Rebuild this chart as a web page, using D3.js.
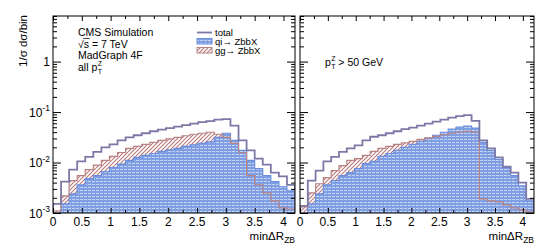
<!DOCTYPE html>
<html>
<head>
<meta charset="utf-8">
<script src="https://cdn.jsdelivr.net/npm/d3@7/dist/d3.min.js"></script>
<style>
  body { margin: 0; background: #fff; }
  svg text { font-family: "Liberation Sans", Arial, Helvetica, sans-serif; fill: #000; }
</style>
</head>
<body>
<div id="chart"></div>
<script>
// Bin low edges (width 0.14) of minDeltaR_ZB
const binLow = [0, 0.14, 0.28, 0.42, 0.56, 0.70, 0.84, 0.98, 1.12, 1.26,
                1.40, 1.54, 1.68, 1.82, 1.96, 2.10, 2.24, 2.38, 2.52, 2.66,
                2.80, 2.94, 3.08, 3.22, 3.36, 3.50, 3.64, 3.78, 3.92, 4.06];
const binWidth = 0.14;

// all pT^Z
const totalAllPt = [0.00151, 0.00417, 0.00724, 0.0105, 0.0129, 0.0162, 0.0200, 0.0229, 0.0275, 0.0316,
                    0.0347, 0.0380, 0.0417, 0.0447, 0.0479, 0.0513, 0.0550, 0.0589, 0.0631, 0.0661,
                    0.0708, 0.0724, 0.0537, 0.0275, 0.0174, 0.0120, 0.0091, 0.0063, 0.0053, 0.0036];
const qiAllPt = [0.0009, 0.00151, 0.0024, 0.00363, 0.00479, 0.0055, 0.00661, 0.00794, 0.0093, 0.0110,
                 0.0126, 0.0138, 0.0151, 0.0166, 0.0178, 0.0191, 0.0209, 0.0224, 0.0240, 0.0257,
                 0.0316, 0.0380, 0.0275, 0.0174, 0.0110, 0.00759, 0.0055, 0.00417, 0.00331, 0.00275];
const ggAllPt = [0.00110, 0.00219, 0.00437, 0.0055, 0.00724, 0.0089, 0.0110, 0.0132, 0.0158, 0.0191,
                 0.0209, 0.0229, 0.0251, 0.0275, 0.0295, 0.0316, 0.0339, 0.0363, 0.0380, 0.0398,
                 0.0363, 0.0316, 0.0240, 0.0158, 0.0055, 0.00363, 0.00251, 0.00174, 0.00126, 0.0012];

// pT^Z > 50 GeV
const totalPt50 = [0.00138, 0.00437, 0.00692, 0.0105, 0.0129, 0.0162, 0.0191, 0.0219, 0.0275, 0.0324,
                   0.0347, 0.0380, 0.0417, 0.0457, 0.0490, 0.0537, 0.0589, 0.0646, 0.0708, 0.0776,
                   0.0832, 0.0871, 0.0670, 0.0275, 0.0191, 0.0126, 0.00832, 0.00631, 0.00398, 0.00191];
const qiPt50 = [0.0009, 0.00151, 0.0024, 0.00363, 0.00437, 0.0055, 0.00631, 0.00759, 0.00955, 0.0105,
                0.0132, 0.0151, 0.0174, 0.0200, 0.0229, 0.0263, 0.0302, 0.0347, 0.0398, 0.0457,
                0.0501, 0.0525, 0.0479, 0.0251, 0.0174, 0.0115, 0.00794, 0.0055, 0.00347, 0.00174];
const ggPt50 = [0.00132, 0.00251, 0.0038, 0.00501, 0.00692, 0.00871, 0.0110, 0.0120, 0.0138, 0.0166,
                0.0191, 0.0209, 0.0229, 0.0245, 0.0263, 0.0288, 0.0309, 0.0331, 0.0355, 0.0380,
                0.0398, 0.0417, 0.0398, 0.00191, 0.00174, 0.00166, 0.00145, 0.00126, 0.00115, 0.00105];

// Axis ticks
const xTickLabels = [0, 0.5, 1, 1.5, 2, 2.5, 3, 3.5, 4];
const xMinorTicks = [0.25, 0.75, 1.25, 1.75, 2.25, 2.75, 3.25, 3.75];
const yTickValues = [0.001, 0.01, 0.1, 1];
const yTickExponents = ['-3', '-2', '-1', ''];

const xDomain = [0, 4.2];
const yDomain = [0.001, 8];
const plotTop = 16;
const plotBottom = 213;

const colTotal = '#7b78a6';
const colQi = '#6a8ddd';
const colGg = '#b88282';

const width = 540;
const height = 252;

const svg = d3.select('#chart')
    .append('svg')
    .attr('width', width)
    .attr('height', height);

const defs = svg.append('defs');

// Blue fill: cornflower with small white dashes
const qiPattern = defs.append('pattern')
    .attr('id', 'qiFill')
    .attr('patternUnits', 'userSpaceOnUse')
    .attr('width', 4)
    .attr('height', 3);
qiPattern.append('rect').attr('width', 4).attr('height', 3).attr('fill', '#7f9fe2');
qiPattern.append('rect').attr('x', 0).attr('y', 1).attr('width', 3).attr('height', 1)
    .attr('fill', '#fff').attr('opacity', 0.55);

// Red fill: diagonal hatch
const ggPattern = defs.append('pattern')
    .attr('id', 'ggFill')
    .attr('patternUnits', 'userSpaceOnUse')
    .attr('width', 4)
    .attr('height', 4);
ggPattern.append('path')
    .attr('d', 'M-1,1 L1,-1 M0,4 L4,0 M3,5 L5,3')
    .attr('stroke', '#b87878')
    .attr('stroke-width', 1.1);

/**
 * Draws one histogram pad
 * @param {Object} cfg - pad edges, series and options
 */
function drawPanel(cfg) {
    const x = d3.scaleLinear().domain(xDomain).range([cfg.left, cfg.right]);
    const y = d3.scaleLog().domain(yDomain).range([plotBottom, plotTop]);
    const yMin = yDomain[0];

    defs.append('clipPath')
        .attr('id', 'clip-' + cfg.id)
        .append('rect')
        .attr('x', cfg.left)
        .attr('y', plotTop)
        .attr('width', cfg.right - cfg.left)
        .attr('height', plotBottom - plotTop);

    const hist = svg.append('g').attr('clip-path', `url(#clip-${cfg.id})`);

    const points = vals => binLow.map((b, i) => [b, vals[i]])
        .concat([[binLow[binLow.length - 1] + binWidth, vals[vals.length - 1]]]);
    const outlinePoints = vals => [[xDomain[0], yMin]].concat(points(vals), [[xDomain[1], yMin]]);
    const yy = v => y(Math.max(v, yMin));

    const area = d3.area()
        .curve(d3.curveStepAfter)
        .x(d => x(d[0]))
        .y0(plotBottom)
        .y1(d => yy(d[1]));
    const line = d3.line()
        .curve(d3.curveStepAfter)
        .x(d => x(d[0]))
        .y(d => yy(d[1]));

    hist.append('path').attr('d', area(points(cfg.gg))).attr('fill', 'url(#ggFill)');
    hist.append('path').attr('d', area(points(cfg.qi))).attr('fill', 'url(#qiFill)');
    hist.append('path').attr('d', line(outlinePoints(cfg.qi)))
        .attr('fill', 'none').attr('stroke', colQi).attr('stroke-width', 1.2);
    hist.append('path').attr('d', line(outlinePoints(cfg.gg)))
        .attr('fill', 'none').attr('stroke', colGg).attr('stroke-width', 1.2);
    hist.append('path').attr('d', line(outlinePoints(cfg.total)))
        .attr('fill', 'none').attr('stroke', colTotal).attr('stroke-width', 1.8);

    // Ticks on all four sides, pointing inwards
    const yMinor = y.ticks().filter(v => !yTickValues.some(t => Math.abs(t - v) < v * 1e-6));
    const noLabel = () => '';
    const axes = [
        [d3.axisBottom(x).tickValues(xTickLabels).tickSizeInner(-5), plotBottom, 0],
        [d3.axisBottom(x).tickValues(xMinorTicks).tickSizeInner(-3), plotBottom, 0],
        [d3.axisTop(x).tickValues(xTickLabels).tickSizeInner(-5), plotTop, 0],
        [d3.axisTop(x).tickValues(xMinorTicks).tickSizeInner(-3), plotTop, 0],
        [d3.axisLeft(y).tickValues(yTickValues).tickSizeInner(-8), 0, cfg.left],
        [d3.axisLeft(y).tickValues(yMinor).tickSizeInner(-4), 0, cfg.left],
        [d3.axisRight(y).tickValues(yTickValues).tickSizeInner(-8), 0, cfg.right],
        [d3.axisRight(y).tickValues(yMinor).tickSizeInner(-4), 0, cfg.right]
    ];
    axes.forEach(([ax, ty, tx]) => {
        svg.append('g')
            .attr('transform', `translate(${tx},${ty})`)
            .call(ax.tickSizeOuter(0).tickFormat(noLabel))
            .call(g => g.select('.domain').remove())
            .selectAll('line').attr('stroke', '#000');
    });

    // Frame
    svg.append('rect')
        .attr('x', cfg.left)
        .attr('y', plotTop)
        .attr('width', cfg.right - cfg.left)
        .attr('height', plotBottom - plotTop)
        .attr('fill', 'none')
        .attr('stroke', '#000')
        .attr('stroke-width', 1);

    // X tick labels
    svg.append('g')
        .selectAll('text')
        .data(xTickLabels)
        .enter()
        .append('text')
        .attr('x', d => x(d))
        .attr('y', 226)
        .attr('text-anchor', 'middle')
        .attr('font-size', '12px')
        .text(d => d);

    // X title
    const xt = svg.append('text')
        .attr('x', cfg.right)
        .attr('y', 239.5)
        .attr('text-anchor', 'end')
        .attr('font-size', '11.5px');
    xt.append('tspan').text('min\u0394R');
    xt.append('tspan').attr('dy', 3.5).attr('font-size', '8.5px').text('ZB');

    if (cfg.yLabels) {
        const lab = svg.append('g')
            .selectAll('text')
            .data(yTickValues)
            .enter()
            .append('text')
            .attr('x', cfg.left - 3)
            .attr('y', d => y(d) + 4.5)
            .attr('text-anchor', 'end')
            .attr('font-size', '12px');
        lab.append('tspan').text((d, i) => yTickExponents[i] ? '10' : '1');
        lab.append('tspan')
            .attr('dy', -5.5)
            .attr('font-size', '8.5px')
            .text((d, i) => yTickExponents[i]);
    }
    return { x, y };
}

/**
 * Writes a "p_T^Z" symbol with sub- and superscript at the same x
 */
function ptZ(x0, baseline, size) {
    const p = svg.append('text')
        .attr('x', x0).attr('y', baseline)
        .attr('font-size', size + 'px')
        .text('p');
    const px = x0 + p.node().getComputedTextLength() + 0.5;
    svg.append('text').attr('x', px).attr('y', baseline - 5).attr('font-size', '7px').text('Z');
    svg.append('text').attr('x', px).attr('y', baseline + 3).attr('font-size', '7px').text('T');
    return px + 6;
}

drawPanel({ id: 'all', left: 53, right: 295, total: totalAllPt, qi: qiAllPt, gg: ggAllPt, yLabels: true });
drawPanel({ id: 'pt50', left: 300, right: 534, total: totalPt50, qi: qiPt50, gg: ggPt50, yLabels: false });

// Y title
svg.append('text')
    .attr('transform', 'translate(27,15) rotate(-90)')
    .attr('text-anchor', 'end')
    .attr('font-size', '11.5px')
    .text('1/\u03c3 d\u03c3/bin');

// Left pad annotations
const infoX = 78;
const infoSize = 10.5;
svg.append('text').attr('x', infoX).attr('y', 36).attr('font-size', infoSize + 'px').text('CMS Simulation');
const root = svg.append('text').attr('x', infoX).attr('y', 47.5).attr('font-size', infoSize + 'px').text('\u221a');
const rootW = root.node().getComputedTextLength();
svg.append('text').attr('x', infoX + rootW).attr('y', 47.5)
    .attr('font-size', infoSize + 'px').text('s = 7 TeV');
svg.append('line')
    .attr('x1', infoX + rootW - 0.5).attr('x2', infoX + rootW + 6)
    .attr('y1', 38.5).attr('y2', 38.5)
    .attr('stroke', '#000').attr('stroke-width', 0.7);
svg.append('text').attr('x', infoX).attr('y', 59).attr('font-size', infoSize + 'px').text('MadGraph 4F');
const allTxt = svg.append('text').attr('x', infoX).attr('y', 70.5).attr('font-size', infoSize + 'px').text('all');
ptZ(infoX + allTxt.node().getComputedTextLength() + 3, 70.5, infoSize);

// Right pad annotation
const after = ptZ(325, 66, infoSize);
svg.append('text').attr('x', after + 1).attr('y', 66).attr('font-size', infoSize + 'px').text('> 50 GeV');

// Legend
const legX = 197;
svg.append('line')
    .attr('x1', legX).attr('x2', legX + 15)
    .attr('y1', 32.5).attr('y2', 32.5)
    .attr('stroke', colTotal).attr('stroke-width', 1.8);
svg.append('rect')
    .attr('x', legX).attr('y', 38.5).attr('width', 15).attr('height', 5.5)
    .attr('fill', 'url(#qiFill)').attr('stroke', colQi).attr('stroke-width', 1);
svg.append('rect')
    .attr('x', legX).attr('y', 47.5).attr('width', 15).attr('height', 5.5)
    .attr('fill', 'url(#ggFill)').attr('stroke', colGg).attr('stroke-width', 1);
const legendText = [['total', 35.5], ['qi\u2192 ZbbX', 44.5], ['gg\u2192 ZbbX', 53.5]];
legendText.forEach(([t, yb]) => {
    svg.append('text').attr('x', legX + 18).attr('y', yb).attr('font-size', '9.5px').text(t);
});
</script>
</body>
</html>
